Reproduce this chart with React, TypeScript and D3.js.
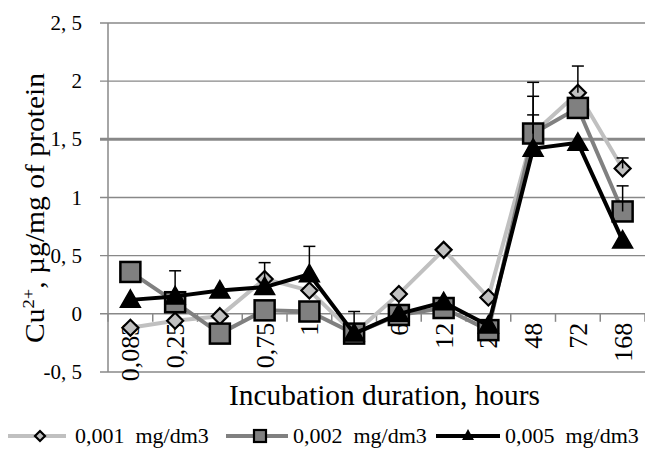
import React from "react";
import * as d3 from "d3";

const categories = ["0,083", "0,25", "0,", "0,75", "1", "", "6", "12", "24", "48", "72", "168"];
const s1Values = [-0.12, -0.06, -0.02, 0.3, 0.2, -0.17, 0.17, 0.55, 0.14, 1.55, 1.9, 1.25];
const s2Values = [0.36, 0.1, -0.17, 0.03, 0.02, -0.17, -0.01, 0.05, -0.14, 1.55, 1.77, 0.88];
const s3Values = [0.12, 0.15, 0.2, 0.23, 0.34, -0.17, 0.0, 0.1, -0.1, 1.42, 1.47, 0.63];
const s1Err = [0, 0, 0, 0.14, 0, 0, 0, 0, 0, 0.44, 0.23, 0.09];
const s2Err = [0, 0.27, 0, 0, 0, 0.19, 0, 0, 0, 0.32, 0, 0.22];
const s3Err = [0, 0, 0, 0, 0.24, 0, 0, 0, 0, 0.29, 0, 0];
const yTicks = [-0.5, 0, 0.5, 1, 1.5, 2, 2.5];
const yTickLabels = ["-0, 5", "0", "0, 5", "1", "1, 5", "2", "2, 5"];
const seriesNames = ["0,001  mg/dm3", "0,002  mg/dm3", "0,005  mg/dm3"];

const W = 653, H = 449;
const L = 108, R = 645, T = 23, B = 372;
const FAM = "Liberation Serif";

export default function App() {
  const x = d3.scaleBand<number>().domain(d3.range(categories.length)).range([L, R]).padding(0);
  const cx = (i: number) => (x(i) as number) + x.bandwidth() / 2;
  const y = d3.scaleLinear().domain([-0.5, 2.5]).range([B, T]);
  const line = d3.line<number>().x((_, i) => cx(i)).y((d) => y(d));

  const series = [
    { vals: s1Values, err: s1Err, color: "#c0c0c0", marker: "diamond" },
    { vals: s2Values, err: s2Err, color: "#808080", marker: "square" },
    { vals: s3Values, err: s3Err, color: "#000000", marker: "triangle" },
  ];

  const marker = (type: string, px: number, py: number, color: string, key: string) => {
    if (type === "diamond") {
      const r = 8;
      return <path key={key} d={`M${px},${py - r}L${px + r},${py}L${px},${py + r}L${px - r},${py}Z`} fill={color} stroke="#000" strokeWidth={2.2} />;
    }
    if (type === "square") {
      const r = 10;
      return <rect key={key} x={px - r} y={py - r} width={2 * r} height={2 * r} fill={color} stroke="#000" strokeWidth={2.5} />;
    }
    const r = 10;
    return <path key={key} d={`M${px},${py - r}L${px + r},${py + r * 0.75}L${px - r},${py + r * 0.75}Z`} fill="#000" stroke="#000" strokeWidth={1.5} />;
  };

  const legendItems = [
    { x0: 8, x1: 66, mx: 40, tx: 75 },
    { x0: 226, x1: 288, mx: 260, tx: 293 },
    { x0: 436, x1: 500, mx: 468, tx: 505 },
  ];

  const tStyle = (): React.CSSProperties => ({ fontFamily: `"${FAM}"`, whiteSpace: "pre" });

  return (
    <svg width={W} height={H} style={{ display: "block", margin: "-8px 0 0 -8px", background: "#fff" }}>
      <rect x={0} y={0} width={W} height={H} fill="#fff" />
      {yTicks.filter((t) => t !== 0).map((t) => (
        <line key={t} x1={100} x2={R} y1={y(t)} y2={y(t)} stroke="#888" strokeWidth={t === 1.5 ? 3 : 1.3} />
      ))}
      <line x1={L} x2={L} y1={T} y2={B} stroke="#888" strokeWidth={1.5} />
      <line x1={100} x2={R} y1={y(0)} y2={y(0)} stroke="#888" strokeWidth={1.5} />
      {d3.range(categories.length + 1).map((i) => {
        const xx = L + i * x.bandwidth();
        return <line key={i} x1={xx} x2={xx} y1={y(0)} y2={y(0) + 8} stroke="#888" strokeWidth={1.5} />;
      })}
      {yTicks.map((t, i) => (
        <text key={t} x={82} y={y(t) + 7} textAnchor="end" fontSize={21} fill="#000" fontFamily={FAM} style={tStyle()}>
          {yTickLabels[i]}
        </text>
      ))}
      {categories.map((c, i) => (
        <text key={i} transform={`translate(${cx(i) + 9},${y(0) + 9}) rotate(-90)`} textAnchor="end" fontSize={26} fill="#000" fontFamily={FAM} style={tStyle()}>
          {c}
        </text>
      ))}
      {series.map((s, si) => (
        <g key={si}>
          <path d={line(s.vals) || ""} fill="none" stroke={s.color} strokeWidth={4} strokeLinejoin="round" />
          {s.vals.map((v, i) => marker(s.marker, cx(i), y(v), s.color, `m${si}-${i}`))}
        </g>
      ))}
      {series.map((s, si) =>
        s.vals.map((v, i) =>
          s.err[i] > 0 ? (
            <g key={`e${si}-${i}`} stroke="#000" strokeWidth={1.5}>
              <line x1={cx(i)} x2={cx(i)} y1={y(v)} y2={y(v + s.err[i])} />
              <line x1={cx(i) - 6} x2={cx(i) + 6} y1={y(v + s.err[i])} y2={y(v + s.err[i])} />
            </g>
          ) : null
        )
      )}
      <text x={229} y={405} fontSize={29} fill="#000" textLength={311} lengthAdjust="spacingAndGlyphs" fontFamily={FAM} style={tStyle()}>Incubation duration, hours</text>
      <text transform={`translate(44,343) rotate(-90)`} fontSize={27} fill="#000" textLength={270} lengthAdjust="spacingAndGlyphs" fontFamily={FAM} style={tStyle()}>
        Cu<tspan dy={-10} fontSize={17}>2+</tspan><tspan dy={10}>, µg/mg of protein</tspan>
      </text>
      {series.map((s, si) => {
        const it = legendItems[si];
        const mx = it.mx;
        return (
          <g key={`l${si}`}>
            <line x1={it.x0} x2={it.x1} y1={436} y2={436} stroke={s.color} strokeWidth={4} />
            {si === 0 ? (
              <path d={`M${mx},${431}L${mx + 5},${436}L${mx},${441}L${mx - 5},${436}Z`} fill={s.color} stroke="#000" strokeWidth={2.2} />
            ) : si === 1 ? (
              <rect x={mx - 6} y={430} width={12} height={12} fill={s.color} stroke="#000" strokeWidth={2.2} />
            ) : (
              <path d={`M${mx},${429}L${mx + 6},${440}L${mx - 6},${440}Z`} fill="#000" />
            )}
            <text x={it.tx} y={443} fontSize={22} fill="#000" fontFamily={FAM} style={tStyle()}>{seriesNames[si]}</text>
          </g>
        );
      })}
    </svg>
  );
}
